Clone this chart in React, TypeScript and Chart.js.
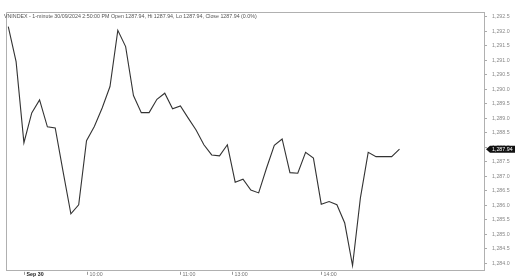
import React, { useEffect, useRef } from "react";
import { Chart, registerables } from "chart.js";

Chart.register(...registerables);

const titleText =
  "VNINDEX - 1-minute 30/09/2024 2:50:00 PM Open 1287.94, Hi 1287.94, Lo 1287.94, Close 1287.94 (0.0%)";

const prices: number[] = [
  1292.17, 1290.96, 1288.16, 1289.19, 1289.64, 1288.71, 1288.67, 1287.17, 1285.71, 1286.02,
  1288.23, 1288.72, 1289.36, 1290.1, 1292.04, 1291.48, 1289.79, 1289.2, 1289.2, 1289.66,
  1289.87, 1289.33, 1289.43, 1289.01, 1288.6, 1288.09, 1287.74, 1287.71, 1288.09, 1286.8,
  1286.9, 1286.53, 1286.43, 1287.28, 1288.07, 1288.29, 1287.13, 1287.11, 1287.83, 1287.63,
  1286.04, 1286.13, 1286.02, 1285.39, 1283.92, 1286.25, 1287.83, 1287.68, 1287.68, 1287.68,
  1287.94,
];

const xTickPositions: number[] = [2, 10, 22, 28.6, 40];
const xTickLabels: string[] = ["Sep 30", "10:00", "11:00", "13:00", "14:00"];

const yTickValues: number[] = [
  1284.0, 1284.5, 1285.0, 1285.5, 1286.0, 1286.5, 1287.0, 1287.5, 1288.0, 1288.5, 1289.0,
  1289.5, 1290.0, 1290.5, 1291.0, 1291.5, 1292.0, 1292.5,
];

const lastPrice = 1287.94;

const fmt = (v: number, d: number) =>
  v.toLocaleString("en-US", { minimumFractionDigits: d, maximumFractionDigits: d });

const FONT = "'Liberation Sans', Arial, sans-serif";

export default function App() {
  const ref = useRef<HTMLCanvasElement>(null);

  useEffect(() => {
    document.body.style.margin = "0";
    if (!ref.current) return;

    const overlay = {
      id: "overlay",
      afterDraw(chart: any) {
        const ctx = chart.ctx;
        const area = chart.chartArea;
        const xs = chart.scales.x;
        const ys = chart.scales.y;
        ctx.save();
        // left & top border
        ctx.strokeStyle = "#b0b0b0";
        ctx.lineWidth = 1;
        ctx.beginPath();
        ctx.moveTo(Math.round(area.left) + 0.5, area.bottom);
        ctx.lineTo(Math.round(area.left) + 0.5, Math.round(area.top) + 0.5);
        ctx.lineTo(area.right, Math.round(area.top) + 0.5);
        ctx.stroke();
        // title
        ctx.fillStyle = "#555";
        ctx.font = "5.3px " + FONT;
        ctx.textBaseline = "top";
        ctx.textAlign = "left";
        ctx.fillText(titleText, 4, area.top + 1.5);
        // x labels
        xTickPositions.forEach((p, i) => {
          const x = Math.round(xs.getPixelForValue(p)) + 0.5;
          ctx.strokeStyle = "#999";
          ctx.beginPath();
          ctx.moveTo(x, area.bottom + 1);
          ctx.lineTo(x, area.bottom + 4);
          ctx.stroke();
          ctx.fillStyle = i === 0 ? "#222" : "#777";
          ctx.font = (i === 0 ? "bold " : "") + "5.3px " + FONT;
          ctx.textBaseline = "top";
          ctx.fillText(xTickLabels[i], x + 2, area.bottom + 1.5);
        });
        // last price marker
        const y = ys.getPixelForValue(lastPrice);
        const x0 = area.right + 2;
        ctx.fillStyle = "#111";
        ctx.beginPath();
        ctx.moveTo(x0, y);
        ctx.lineTo(x0 + 4, y - 3.5);
        ctx.lineTo(515, y - 3.5);
        ctx.lineTo(515, y + 3.5);
        ctx.lineTo(x0 + 4, y + 3.5);
        ctx.closePath();
        ctx.fill();
        ctx.fillStyle = "#fff";
        ctx.font = "5.3px " + FONT;
        ctx.textBaseline = "middle";
        ctx.fillText(fmt(lastPrice, 2), x0 + 6, y + 0.3);
        ctx.restore();
      },
    };

    const chart = new Chart(ref.current, {
      type: "line",
      data: {
        datasets: [
          {
            data: prices.map((v, i) => ({ x: i, y: v })),
            borderColor: "#333",
            borderWidth: 1.1,
            pointRadius: 0,
            tension: 0,
            fill: false,
          },
        ],
      },
      options: {
        animation: false,
        responsive: false,
        maintainAspectRatio: false,
        layout: { padding: { left: 6, top: 12, right: 0, bottom: 0 } },
        plugins: {
          legend: { display: false },
          tooltip: { enabled: false },
          title: { display: false },
        },
        scales: {
          x: {
            type: "linear",
            min: -0.29,
            max: 60.8,
            grid: { display: false, drawTicks: false },
            border: { display: true, color: "#b0b0b0", width: 1 },
            ticks: { display: false },
            afterFit(scale: any) {
              scale.height = 8;
            },
          },
          y: {
            type: "linear",
            position: "right",
            min: 1283.741,
            max: 1292.672,
            afterBuildTicks(scale: any) {
              scale.ticks = yTickValues.map((v) => ({ value: v }));
            },
            grid: {
              drawOnChartArea: false,
              drawTicks: true,
              tickLength: 3,
              color: "#aaa",
              offset: false,
            },
            border: { display: true, color: "#b0b0b0", width: 1 },
            ticks: {
              color: "#888",
              padding: 5,
              font: { size: 5.3, family: FONT },
              callback: (v: any) => fmt(Number(v), 1),
            },
            afterFit(scale: any) {
              scale.width = 31;
            },
          },
        },
      },
      plugins: [overlay],
    });

    return () => chart.destroy();
  }, []);

  return (
    <div style={{ width: 515, height: 279 }}>
      <canvas ref={ref} width={515} height={279} style={{ display: "block" }} />
    </div>
  );
}
